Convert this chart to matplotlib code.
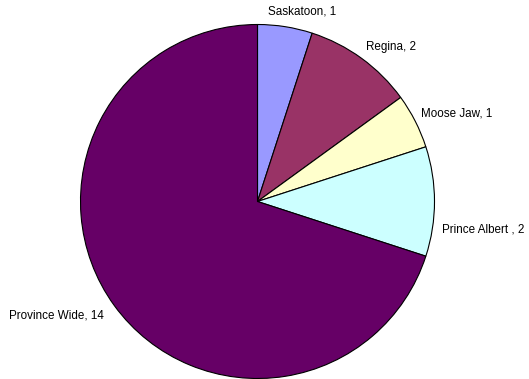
import matplotlib
matplotlib.use("Agg")
import matplotlib.pyplot as plt

categories = ["Saskatoon", "Regina", "Moose Jaw", "Prince Albert ", "Province Wide"]
values = [1, 2, 1, 2, 14]
colors = ["#9999FF", "#993366", "#FFFFCC", "#CCFFFF", "#660066"]

# label anchor positions in pixel coordinates (layout only)
label_pos = [(268, 12, "left"), (366, 47, "left"), (421, 113, "left"),
             (442, 229, "left"), (9, 316, "left")]

fig = plt.figure(figsize=(5.29, 3.79), dpi=100)
ax = fig.add_axes([0, 0, 1, 1])

cx, cy, r = 257.5, 201.5, 177
ax.pie(values, colors=colors, startangle=-90, counterclock=True,
       center=(cx, cy), radius=r,
       wedgeprops=dict(edgecolor="black", linewidth=0.8), frame=True)
ax.set_xlim(0, 529)
ax.set_ylim(379, 0)
ax.set_aspect("equal")
ax.axis("off")

for name, v, (x, y, ha) in zip(categories, values, label_pos):
    ax.text(x, y, f"{name}, {v}", ha=ha, va="center", fontsize=8.4,
            family="Liberation Sans", color="black")

fig.savefig("out.png", dpi=100)
